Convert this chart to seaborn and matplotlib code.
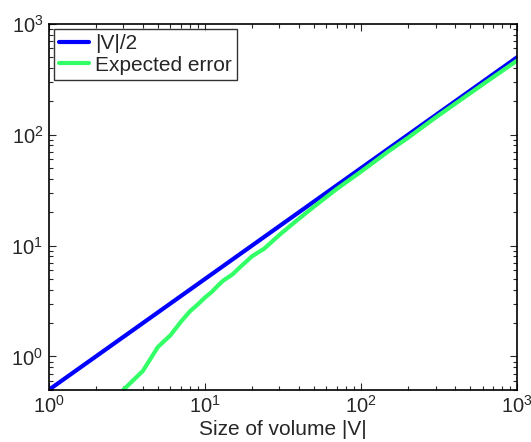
import numpy as np
import pandas as pd
import matplotlib
matplotlib.use("Agg")
import matplotlib.pyplot as plt
import seaborn as sns

# |V|/2 reference line
v_sizes = [1, 2, 5, 10, 20, 50, 100, 200, 500, 1000]
half_v = [0.5, 1, 2.5, 5, 10, 25, 50, 100, 250, 500]

# expected error
err_sizes = [3, 4, 5, 6, 7, 8, 9, 10, 11, 12, 13, 15, 17, 20, 24, 30, 40, 50,
             70, 100, 150, 200, 300, 500, 700, 1000]
err_vals = [0.5, 0.74, 1.22, 1.55, 2.05, 2.55, 2.95, 3.4, 3.8, 4.3, 4.8, 5.5,
            6.5, 8.0, 9.4, 12.5, 17.5, 22.5, 32.5, 46.5, 71, 94, 143, 237,
            330, 467]

df_half = pd.DataFrame({"x": v_sizes, "y": half_v})
df_err = pd.DataFrame({"x": err_sizes, "y": err_vals})

sns.set_style("ticks")
plt.rcParams["font.family"] = ["Liberation Sans", "DejaVu Sans"]
plt.rcParams["xtick.direction"] = "in"
plt.rcParams["ytick.direction"] = "in"

fig = plt.figure(figsize=(5.31, 4.42), dpi=100)
ax = fig.add_axes([0.092, 0.118, 0.882, 0.828])

sns.lineplot(data=df_half, x="x", y="y", ax=ax, color="#0000ff", linewidth=3,
             label="|V|/2")
sns.lineplot(data=df_err, x="x", y="y", ax=ax, color="#33ff66", linewidth=3,
             label="Expected error")

ax.set_xscale("log")
ax.set_yscale("log")
ax.set_xlim(1, 1000)
ax.set_ylim(0.5, 1000)
ax.set_xlabel("Size of volume |V|", fontsize=15, labelpad=2)
ax.set_ylabel("")

ax.tick_params(which="both", top=True, right=True, labelsize=14.5, width=0.8)
ax.tick_params(which="major", length=5)
ax.tick_params(which="minor", length=3)
ax.tick_params(axis="x", pad=4)
ax.tick_params(axis="y", pad=4)
for sp in ax.spines.values():
    sp.set_linewidth(1.2)
    sp.set_color("black")

leg = ax.legend(loc="upper left", fontsize=15, frameon=True, fancybox=False,
                edgecolor="black", handlelength=1.45, handletextpad=0.25,
                borderpad=0.25, borderaxespad=0.25, labelspacing=0.12)
leg.get_frame().set_linewidth(1.0)

fig.savefig("out.png", dpi=100)
